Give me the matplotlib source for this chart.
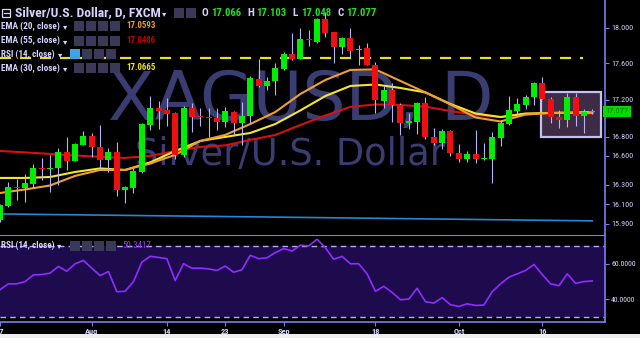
import numpy as np
import matplotlib
matplotlib.use('Agg')
import matplotlib.pyplot as plt
import matplotlib.transforms as mtransforms
from matplotlib import font_manager
from matplotlib.patches import Rectangle

# ---------------- data: XAG/USD daily (FXCM), 17 Jul - 24 Oct ----------------
opens = [15.94, 16.085, 16.27, 16.266, 16.307, 16.47, 16.46, 16.473, 16.641, 16.55,
         16.715, 16.81, 16.694, 16.557, 16.641, 16.245, 16.266, 16.431, 16.927, 17.111,
         17.089, 17.06, 16.61, 17.111, 17.02, 17.01, 17.005, 16.963, 17.07, 16.952,
         17.02, 17.43, 17.35, 17.406, 17.54, 17.706, 17.65, 17.87, 17.842, 18.103,
         17.954, 17.785, 17.887, 17.75, 17.774, 17.584, 17.187, 17.307, 17.143, 16.95,
         16.96, 17.165, 16.80, 16.736, 16.863, 16.63, 16.568, 16.62, 16.568, 16.568,
         16.79, 16.94, 17.078, 17.143, 17.23, 17.384, 17.209, 17.013, 16.981, 17.23,
         17.024, 17.066]
highs = [16.10, 16.327, 16.358, 16.41, 16.515, 16.578, 16.61, 16.683, 16.80, 16.735,
         16.866, 16.845, 16.927, 16.683, 16.747, 16.286, 16.473, 16.95, 17.241, 17.187,
         17.22, 17.068, 17.13, 17.165, 17.11, 17.111, 17.111, 17.122, 17.075, 17.176,
         17.461, 17.65, 17.45, 17.606, 17.73, 17.943, 18.0, 17.977, 18.115, 18.184,
         17.96, 17.898, 18.0, 17.808, 17.83, 17.617, 17.352, 17.384, 17.165, 17.057,
         17.176, 17.23, 16.895, 16.885, 16.874, 16.725, 16.65, 16.874, 16.736, 16.853,
         16.981, 17.241, 17.22, 17.252, 17.395, 17.45, 17.23, 17.089, 17.274, 17.274,
         17.10, 17.103]
lows = [15.92, 16.072, 16.143, 16.12, 16.266, 16.348, 16.225, 16.297, 16.452, 16.545,
        16.71, 16.59, 16.452, 16.431, 16.184, 16.112, 16.214, 16.42, 16.874, 16.885,
        16.917, 16.568, 16.59, 16.853, 16.92, 16.80, 16.874, 16.906, 16.82, 16.715,
        16.95, 17.34, 17.307, 17.252, 17.528, 17.64, 17.645, 17.796, 17.83, 17.898,
        17.606, 17.706, 17.673, 17.584, 17.58, 17.057, 17.111, 16.96, 16.82, 16.885,
        16.832, 16.78, 16.715, 16.672, 16.60, 16.536, 16.536, 16.526, 16.557, 16.317,
        16.704, 16.927, 17.046, 17.10, 17.143, 17.205, 16.95, 16.895, 16.906, 16.917,
        16.842, 17.048]
closes = [16.09, 16.273, 16.26, 16.317, 16.473, 16.46, 16.47, 16.641, 16.55, 16.725,
          16.81, 16.694, 16.557, 16.641, 16.245, 16.276, 16.442, 16.938, 17.111, 17.078,
          17.046, 16.61, 17.111, 17.013, 17.01, 17.00, 16.963, 17.078, 16.952, 17.024,
          17.439, 17.35, 17.406, 17.55, 17.706, 17.65, 17.876, 17.86, 18.103, 17.943,
          17.785, 17.887, 17.74, 17.763, 17.584, 17.198, 17.307, 17.143, 16.95, 16.97,
          17.165, 16.80, 16.736, 16.863, 16.63, 16.568, 16.62, 16.568, 16.578, 16.80,
          16.95, 17.089, 17.154, 17.23, 17.384, 17.209, 17.013, 16.981, 17.23, 17.024,
          17.067, 17.077]

# moving averages every 3 bars
ema_idx = [0, 3, 6, 9, 12, 15, 18, 21, 24, 27, 30, 33, 36, 39, 42, 45, 48, 51, 54, 57,
           60, 63, 66, 69, 71]
ema20 = [16.214, 16.250, 16.291, 16.390, 16.452, 16.452, 16.520, 16.610, 16.757, 16.821,
         16.938, 17.067, 17.263, 17.417, 17.528, 17.534, 17.406, 17.280, 17.149, 17.008,
         16.965, 17.040, 17.057, 17.057, 17.0593]
ema30 = [16.369, 16.369, 16.379, 16.431, 16.468, 16.452, 16.531, 16.651, 16.757, 16.800,
         16.842, 16.938, 17.084, 17.241, 17.351, 17.367, 17.329, 17.280, 17.154, 17.051,
         17.013, 17.051, 17.057, 17.062, 17.0665]
ema55 = [16.651, 16.636, 16.620, 16.604, 16.589, 16.578, 16.599, 16.651, 16.694, 16.710,
         16.768, 16.821, 16.927, 17.030, 17.122, 17.149, 17.143, 17.125, 17.078, 17.035,
         17.013, 17.040, 17.057, 17.057, 17.0486]
long_idx = [0, 36, 71]
long_ma = [16.00, 15.965, 15.93]

rsi = [45.4, 48.7, 48.7, 50.0, 53.8, 54.0, 54.8, 58.6, 55.9, 60.1,
       62.0, 57.6, 53.4, 55.7, 44.3, 44.5, 50.0, 61.0, 64.3, 63.7,
       63.0, 50.6, 60.1, 57.6, 57.6, 57.2, 56.3, 58.8, 55.3, 56.7,
       64.9, 63.0, 63.5, 66.4, 68.7, 67.3, 70.6, 70.2, 74.0, 69.2,
       62.6, 64.3, 60.1, 60.1, 54.4, 44.5, 47.3, 43.9, 39.7, 40.1,
       46.2, 38.6, 37.8, 40.9, 36.9, 35.9, 37.4, 36.5, 36.7, 44.3,
       48.7, 52.5, 54.4, 56.3, 59.7, 54.0, 48.7, 47.7, 54.4, 49.0,
       50.0, 50.3417]

tick_idx = [0, 11, 20, 27, 34, 45, 55, 65]
tick_lbl = ['17', 'Aug', '14', '23', 'Sep', '18', 'Oct', '16']
price_ticks = [15.9, 16.1, 16.3, 16.6, 16.8, 17.2, 17.6, 18.0]
resistance = 17.66

# ---------------- style ----------------
BG = '#000000'
LAV = '#d4d4ff'
AXC = '#7c7cf2'
UP = '#00ee00'
DN = '#ee1010'
WICK = '#b4b4f6'
avail = {f.name for f in font_manager.fontManager.ttflist}
UI = next((n for n in ['Liberation Sans Narrow', 'Roboto Condensed', 'Open Sans Condensed']
           if n in avail), 'Liberation Sans')
plt.rcParams['font.family'] = [UI, 'DejaVu Sans']

W, H = 640, 338
fig = plt.figure(figsize=(6.4, 3.38), dpi=100)
fig.patch.set_facecolor(BG)
renderer = fig.canvas.get_renderer()


def fx(x):
    return x / W


def fy(y):
    return 1 - y / H


ax = fig.add_axes([0, fy(234), fx(605), 234 / H])
ax2 = fig.add_axes([0, fy(322), fx(605), 87 / H], sharex=ax)
for a in (ax, ax2):
    a.set_facecolor(BG)
    for s in a.spines.values():
        s.set_visible(False)
    a.spines['right'].set_visible(True)
    a.spines['right'].set_color(AXC)
    a.spines['right'].set_linewidth(1.2)

x = np.arange(len(closes))
o = np.array(opens)
c = np.array(closes)

# ---------------- price panel ----------------
ax.set_yscale('log')
ax.set_ylim(15.798, 18.322)
ax.set_xlim(0.24, 72.52)

# watermark
ax.text(0.497, 0.487, 'XAGUSD, D', transform=ax.transAxes, ha='center', va='baseline',
        fontsize=49, color='#3a3d72', family='DejaVu Sans', zorder=0)
ax.text(0.479, 0.295, 'Silver/U.S. Dollar', transform=ax.transAxes, ha='center',
        va='baseline', fontsize=26.5, color='#3a3d72', family='DejaVu Sans', zorder=0)

# selection box
ax.add_patch(Rectangle((64.9, 16.80), 7.1, 17.285 - 16.80, facecolor='#3e2b44',
                       edgecolor='#c4c0f6', linewidth=1.6, zorder=1))

ax.plot(long_idx, long_ma, color='#2486d6', lw=1.2, zorder=2)
ax.plot([0, 69.9], [resistance, resistance], color='#e8e020', lw=1.6,
        dashes=(5, 4), zorder=2)
ax.plot(ema_idx, ema55, color='#d41010', lw=1.5, zorder=3)
ax.plot(ema_idx, ema30, color='#f6e62a', lw=1.5, zorder=3)
ax.plot(ema_idx, ema20, color='#f0a030', lw=1.5, zorder=3)

ax.vlines(x, lows, highs, color=WICK, lw=0.8, zorder=4)
body_lo = np.minimum(o, c)
body_h = np.maximum(np.abs(c - o), 0.014)
cols = [UP if cc >= oo else DN for oo, cc in zip(o, c)]
ax.bar(x, body_h, bottom=body_lo, width=0.72, color=cols, linewidth=0, zorder=5)

ax.yaxis.tick_right()
ax.yaxis.set_major_locator(plt.FixedLocator(price_ticks))
ax.yaxis.set_major_formatter(plt.FuncFormatter(lambda v, p: f'{v:.3f}'))
ax.yaxis.set_minor_locator(plt.NullLocator())
ax.tick_params(axis='y', colors=AXC, labelcolor=LAV, labelsize=5.8, length=3, pad=1.5)
ax.tick_params(axis='x', bottom=False, labelbottom=False)

# last price tag
tr = mtransforms.blended_transform_factory(ax.transAxes, ax.transData)
ax.text(1.0, closes[-1], '17.077', transform=tr, ha='left', va='center', fontsize=6,
        color='#067a06', zorder=8, clip_on=False,
        bbox=dict(boxstyle='square,pad=0.3', fc='#00dc00', ec='none'))

# ---------------- RSI panel ----------------
ax2.set_ylim(27.1, 76.4)
ax2.axhspan(30, 70, color='#1d0b4e', lw=0, zorder=0)
for lev in (30, 70):
    ax2.axhline(lev, color='#b4acf2', lw=1.0, dashes=(4, 3), zorder=1)
ax2.plot(x, rsi, color='#8f2cff', lw=1.2, zorder=3)
ax2.yaxis.tick_right()
ax2.set_yticks([40, 60])
ax2.set_yticklabels(['40.0000', '60.0000'])
ax2.tick_params(axis='y', colors=AXC, labelcolor=LAV, labelsize=5.6, length=3, pad=1.5)
ax2.set_xticks(tick_idx)
ax2.set_xticklabels(tick_lbl, fontweight='bold')
ax2.tick_params(axis='x', colors=AXC, labelcolor=LAV, labelsize=6, length=3, pad=1.5)
ax2.spines['top'].set_visible(True)
ax2.spines['top'].set_color(AXC)
ax2.spines['bottom'].set_visible(True)
ax2.spines['bottom'].set_color(AXC)
ax2.spines['bottom'].set_linewidth(1.2)


# ---------------- header and legends ----------------
def label(x0, y, s, width=None, color=LAV, weight='bold', size=9):
    # place text at a pixel spot and scale it to the width seen on the chart
    t = fig.text(fx(x0), fy(y), s, color=color, fontsize=size, fontweight=weight,
                 va='center', ha='left', zorder=11)
    if width:
        w = t.get_window_extent(renderer).width
        t.set_fontsize(size * width / w)
    return t


def caret(x0, y):
    fig.text(fx(x0), fy(y), '▾', color=LAV, fontsize=6, va='center',
             family='DejaVu Sans', zorder=11)


def icons(x0, y, n, hi=None):
    for k in range(n):
        fc = '#3aa6e8' if k == hi else '#3a3a58'
        fig.add_artist(Rectangle((fx(x0 + k * 12), fy(y + 5)), 10 / W, 10 / H,
                                 transform=fig.transFigure, fc=fc, ec='none', zorder=9))


fig.add_artist(Rectangle((fx(2), fy(17)), 8 / W, 8 / H, transform=fig.transFigure,
                         fc='none', ec=LAV, lw=0.9, zorder=11))
fig.add_artist(plt.Line2D([fx(3.5), fx(8.5)], [fy(13), fy(13)], color=LAV, lw=0.9,
                          zorder=11))
label(15, 13, 'Silver/U.S. Dollar, D, FXCM', 146)
caret(162, 13.5)
icons(174, 13, 2)
ohlc = [('O', '17.066', 202), ('H', '17.103', 247), ('L', '17.048', 292), ('C', '17.077', 337)]
for lab, val, px in ohlc:
    label(px, 13, lab, size=8)
    label(px + 9, 13, val, 30, color='#22dd22')

legend_rows = [('EMA (20, close)', '17.0593', '#e8a020', 26, None, 74),
               ('EMA (55, close)', '17.0486', '#c40000', 40.7, None, 74),
               ('RSI (14, close)', '', LAV, 54, 0, 70),
               ('EMA (30, close)', '17.0665', '#ece424', 68, None, 74)]
for lab, val, col, yy, hi, ix in legend_rows:
    w = 59 if lab.startswith('EMA') else 54
    label(1, yy, lab, w, size=7)
    caret(w + 4, yy + 0.5)
    icons(ix, yy, 4, hi)
    if val:
        label(126, yy, val, 30, color=col, size=7)

label(1, 245.5, 'RSI (14, close)', 54, size=7)
caret(57, 246)
icons(70, 245.5, 4)
label(122, 245.5, '50.3417', 29, color='#9a3cff', weight='normal', size=7)

fig.add_artist(Rectangle((0, 0), 1, 4 / H, transform=fig.transFigure, fc='#eeeeee',
                         ec='none', zorder=10))

fig.savefig('out.png', dpi=100, facecolor=fig.get_facecolor())
